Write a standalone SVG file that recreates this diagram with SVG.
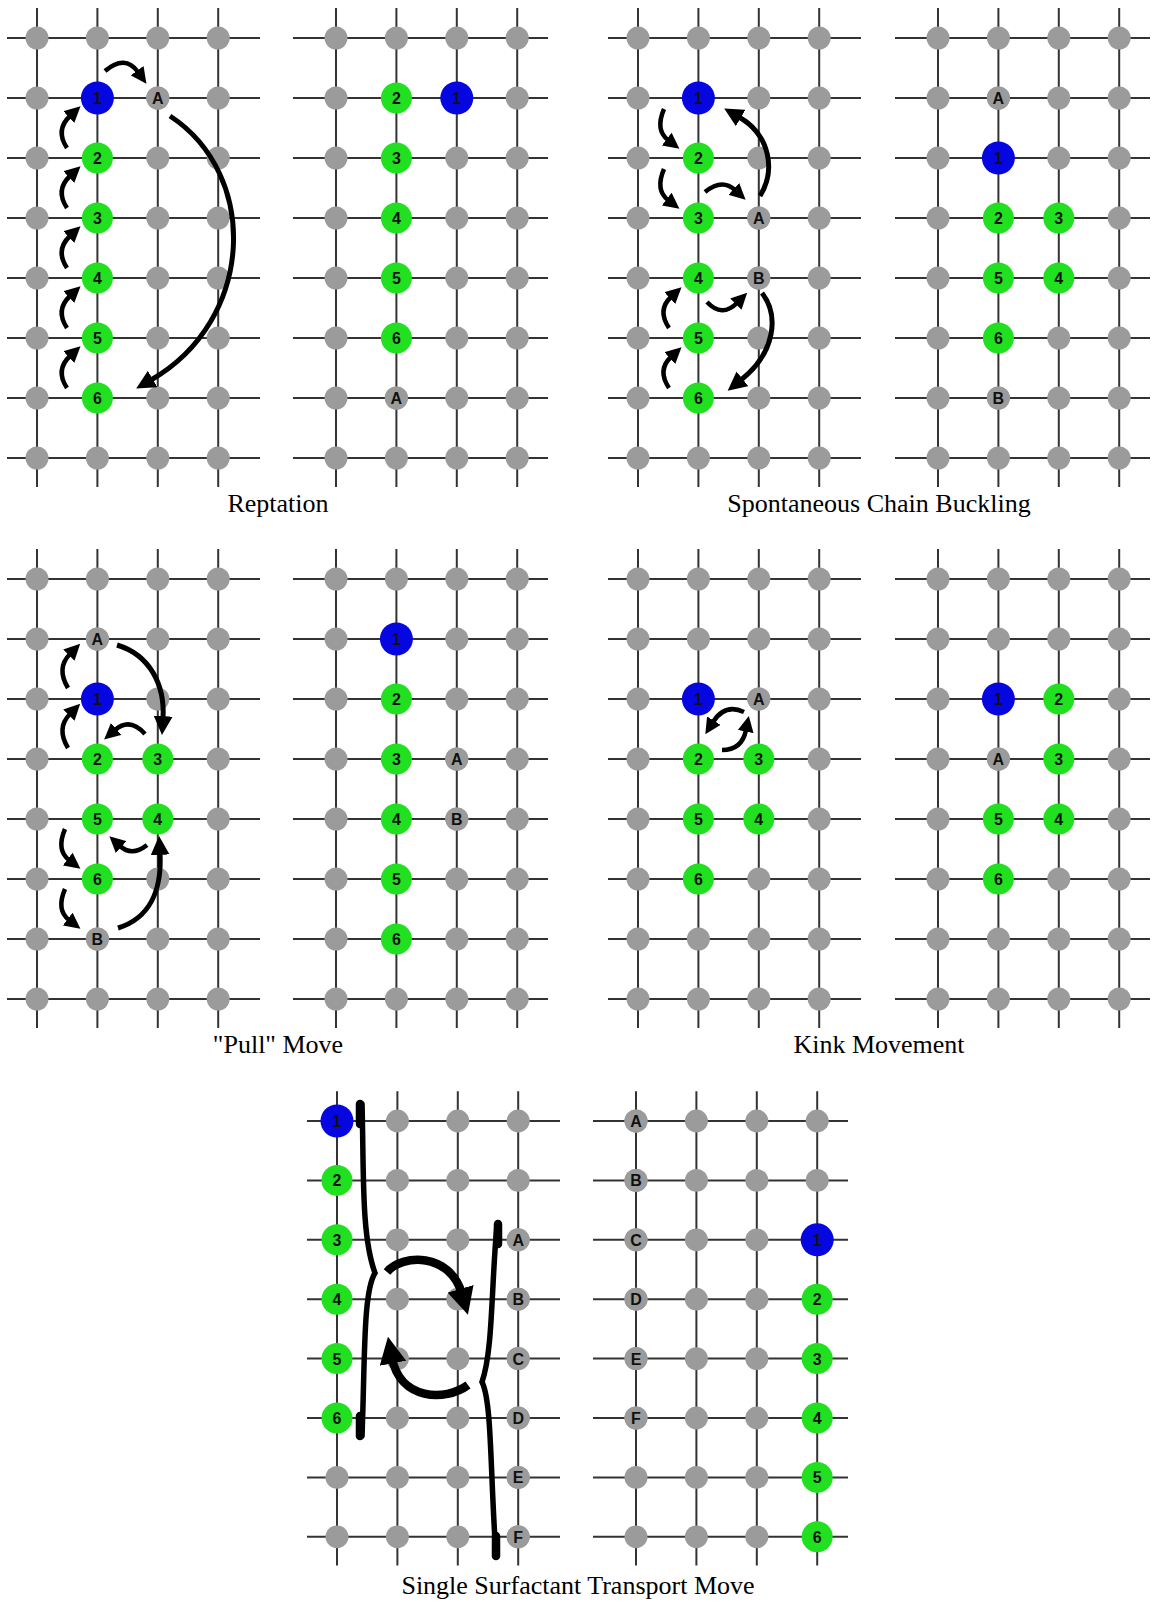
<svg xmlns="http://www.w3.org/2000/svg" xmlns:xlink="http://www.w3.org/1999/xlink" width="1155" height="1602" viewBox="0 0 1155 1602">
<style>
.ln{stroke:#333;stroke-width:2;fill:none}
.dot{fill:#9b9b9b}
.gn{fill:#20e020}
.bl{fill:#0606e0}
.gy{fill:#9b9b9b}
.lab{font-family:"Liberation Sans",Arial,sans-serif;font-weight:bold;font-size:16px;text-anchor:middle;fill:#111}
.cap{font-family:"Liberation Serif","Times New Roman",serif;font-size:26px;text-anchor:middle;fill:#000}
.arr{fill:none;stroke:#000;stroke-width:4.5;marker-end:url(#ah)}
.arrm{fill:none;stroke:#000;stroke-width:5;marker-end:url(#ahm)}
.arrb{fill:none;stroke:#000;stroke-width:8.5;marker-end:url(#ahb)}
.brace{fill:none;stroke:#000;stroke-width:5.5;stroke-linecap:round}
.bcap{fill:none;stroke:#000;stroke-width:8.5;stroke-linecap:round}
</style>
<defs>
<marker id="ah" markerUnits="userSpaceOnUse" markerWidth="16" markerHeight="16" viewBox="0 0 10 10" refX="1" refY="5" orient="auto"><path d="M0,0L10,5L0,10z" fill="#000"/></marker>
<marker id="ahm" markerUnits="userSpaceOnUse" markerWidth="19" markerHeight="19" viewBox="0 0 10 10" refX="1" refY="5" orient="auto"><path d="M0,0L10,5L0,10z" fill="#000"/></marker>
<marker id="ahb" markerUnits="userSpaceOnUse" markerWidth="27" markerHeight="27" viewBox="0 0 10 10" refX="2" refY="5" orient="auto"><path d="M0,0L10,5L0,10z" fill="#000"/></marker>
<g id="vl"><path class="ln" d="M0,-30V449M60.4,-30V449M120.8,-30V449M181.2,-30V449"/></g>
<g id="dots">
<g id="drow"><circle class="dot" cx="0" cy="0" r="11.5"/><circle class="dot" cx="60.4" cy="0" r="11.5"/><circle class="dot" cx="120.8" cy="0" r="11.5"/><circle class="dot" cx="181.2" cy="0" r="11.5"/></g>
<use xlink:href="#drow" y="60"/><use xlink:href="#drow" y="120"/><use xlink:href="#drow" y="180"/><use xlink:href="#drow" y="240"/><use xlink:href="#drow" y="300"/><use xlink:href="#drow" y="360"/><use xlink:href="#drow" y="420"/>
</g>
<g id="latL"><use xlink:href="#vl"/><path class="ln" d="M-30,0H223M-30,60H223M-30,120H223M-30,180H223M-30,240H223M-30,300H223M-30,360H223M-30,420H223"/><use xlink:href="#dots"/></g>
<g id="latR"><use xlink:href="#vl"/><path class="ln" d="M-43,0H212M-43,60H212M-43,120H212M-43,180H212M-43,240H212M-43,300H212M-43,360H212M-43,420H212"/><use xlink:href="#dots"/></g>
</defs>
<rect width="1155" height="1602" fill="#fff"/>
<g id="lattices">
<use xlink:href="#latL" transform="translate(37,38)"/>
<use xlink:href="#latR" transform="translate(336,38)"/>
<use xlink:href="#latL" transform="translate(638,38)"/>
<use xlink:href="#latR" transform="translate(938,38)"/>
<use xlink:href="#latL" transform="translate(37,579)"/>
<use xlink:href="#latR" transform="translate(336,579)"/>
<use xlink:href="#latL" transform="translate(638,579)"/>
<use xlink:href="#latR" transform="translate(938,579)"/>
<use xlink:href="#latL" transform="translate(337,1121) scale(1,0.99)"/>
<use xlink:href="#latR" transform="translate(636,1121) scale(1,0.99)"/>
</g>
<g id="nodes">
<!-- Reptation before -->
<g id="rep1-1"><circle class="bl" cx="97.4" cy="98" r="16.5"/><text class="lab" x="97.4" y="104">1</text></g>
<g id="rep1-A"><circle class="gy" cx="157.8" cy="98" r="11.5"/><text class="lab" x="157.8" y="104">A</text></g>
<g id="rep1-2"><circle class="gn" cx="97.4" cy="158" r="15.5"/><text class="lab" x="97.4" y="164">2</text></g>
<g id="rep1-3"><circle class="gn" cx="97.4" cy="218" r="15.5"/><text class="lab" x="97.4" y="224">3</text></g>
<g id="rep1-4"><circle class="gn" cx="97.4" cy="278" r="15.5"/><text class="lab" x="97.4" y="284">4</text></g>
<g id="rep1-5"><circle class="gn" cx="97.4" cy="338" r="15.5"/><text class="lab" x="97.4" y="344">5</text></g>
<g id="rep1-6"><circle class="gn" cx="97.4" cy="398" r="15.5"/><text class="lab" x="97.4" y="404">6</text></g>
<!-- Reptation after -->
<g id="rep2-2"><circle class="gn" cx="396.4" cy="98" r="15.5"/><text class="lab" x="396.4" y="104">2</text></g>
<g id="rep2-1"><circle class="bl" cx="456.8" cy="98" r="16.5"/><text class="lab" x="456.8" y="104">1</text></g>
<g id="rep2-3"><circle class="gn" cx="396.4" cy="158" r="15.5"/><text class="lab" x="396.4" y="164">3</text></g>
<g id="rep2-4"><circle class="gn" cx="396.4" cy="218" r="15.5"/><text class="lab" x="396.4" y="224">4</text></g>
<g id="rep2-5"><circle class="gn" cx="396.4" cy="278" r="15.5"/><text class="lab" x="396.4" y="284">5</text></g>
<g id="rep2-6"><circle class="gn" cx="396.4" cy="338" r="15.5"/><text class="lab" x="396.4" y="344">6</text></g>
<g id="rep2-A"><circle class="gy" cx="396.4" cy="398" r="11.5"/><text class="lab" x="396.4" y="404">A</text></g>
<!-- Buckling before -->
<g id="buc1-1"><circle class="bl" cx="698.4" cy="98" r="16.5"/><text class="lab" x="698.4" y="104">1</text></g>
<g id="buc1-2"><circle class="gn" cx="698.4" cy="158" r="15.5"/><text class="lab" x="698.4" y="164">2</text></g>
<g id="buc1-3"><circle class="gn" cx="698.4" cy="218" r="15.5"/><text class="lab" x="698.4" y="224">3</text></g>
<g id="buc1-A"><circle class="gy" cx="758.8" cy="218" r="11.5"/><text class="lab" x="758.8" y="224">A</text></g>
<g id="buc1-4"><circle class="gn" cx="698.4" cy="278" r="15.5"/><text class="lab" x="698.4" y="284">4</text></g>
<g id="buc1-B"><circle class="gy" cx="758.8" cy="278" r="11.5"/><text class="lab" x="758.8" y="284">B</text></g>
<g id="buc1-5"><circle class="gn" cx="698.4" cy="338" r="15.5"/><text class="lab" x="698.4" y="344">5</text></g>
<g id="buc1-6"><circle class="gn" cx="698.4" cy="398" r="15.5"/><text class="lab" x="698.4" y="404">6</text></g>
<!-- Buckling after -->
<g id="buc2-A"><circle class="gy" cx="998.4" cy="98" r="11.5"/><text class="lab" x="998.4" y="104">A</text></g>
<g id="buc2-1"><circle class="bl" cx="998.4" cy="158" r="16.5"/><text class="lab" x="998.4" y="164">1</text></g>
<g id="buc2-2"><circle class="gn" cx="998.4" cy="218" r="15.5"/><text class="lab" x="998.4" y="224">2</text></g>
<g id="buc2-3"><circle class="gn" cx="1058.8" cy="218" r="15.5"/><text class="lab" x="1058.8" y="224">3</text></g>
<g id="buc2-5"><circle class="gn" cx="998.4" cy="278" r="15.5"/><text class="lab" x="998.4" y="284">5</text></g>
<g id="buc2-4"><circle class="gn" cx="1058.8" cy="278" r="15.5"/><text class="lab" x="1058.8" y="284">4</text></g>
<g id="buc2-6"><circle class="gn" cx="998.4" cy="338" r="15.5"/><text class="lab" x="998.4" y="344">6</text></g>
<g id="buc2-B"><circle class="gy" cx="998.4" cy="398" r="11.5"/><text class="lab" x="998.4" y="404">B</text></g>
<!-- Pull before -->
<g id="pul1-A"><circle class="gy" cx="97.4" cy="639" r="11.5"/><text class="lab" x="97.4" y="645">A</text></g>
<g id="pul1-1"><circle class="bl" cx="97.4" cy="699" r="16.5"/><text class="lab" x="97.4" y="705">1</text></g>
<g id="pul1-2"><circle class="gn" cx="97.4" cy="759" r="15.5"/><text class="lab" x="97.4" y="765">2</text></g>
<g id="pul1-3"><circle class="gn" cx="157.8" cy="759" r="15.5"/><text class="lab" x="157.8" y="765">3</text></g>
<g id="pul1-5"><circle class="gn" cx="97.4" cy="819" r="15.5"/><text class="lab" x="97.4" y="825">5</text></g>
<g id="pul1-4"><circle class="gn" cx="157.8" cy="819" r="15.5"/><text class="lab" x="157.8" y="825">4</text></g>
<g id="pul1-6"><circle class="gn" cx="97.4" cy="879" r="15.5"/><text class="lab" x="97.4" y="885">6</text></g>
<g id="pul1-B"><circle class="gy" cx="97.4" cy="939" r="11.5"/><text class="lab" x="97.4" y="945">B</text></g>
<!-- Pull after -->
<g id="pul2-1"><circle class="bl" cx="396.4" cy="639" r="16.5"/><text class="lab" x="396.4" y="645">1</text></g>
<g id="pul2-2"><circle class="gn" cx="396.4" cy="699" r="15.5"/><text class="lab" x="396.4" y="705">2</text></g>
<g id="pul2-3"><circle class="gn" cx="396.4" cy="759" r="15.5"/><text class="lab" x="396.4" y="765">3</text></g>
<g id="pul2-A"><circle class="gy" cx="456.8" cy="759" r="11.5"/><text class="lab" x="456.8" y="765">A</text></g>
<g id="pul2-4"><circle class="gn" cx="396.4" cy="819" r="15.5"/><text class="lab" x="396.4" y="825">4</text></g>
<g id="pul2-B"><circle class="gy" cx="456.8" cy="819" r="11.5"/><text class="lab" x="456.8" y="825">B</text></g>
<g id="pul2-5"><circle class="gn" cx="396.4" cy="879" r="15.5"/><text class="lab" x="396.4" y="885">5</text></g>
<g id="pul2-6"><circle class="gn" cx="396.4" cy="939" r="15.5"/><text class="lab" x="396.4" y="945">6</text></g>
<!-- Kink before -->
<g id="kin1-1"><circle class="bl" cx="698.4" cy="699" r="16.5"/><text class="lab" x="698.4" y="705">1</text></g>
<g id="kin1-A"><circle class="gy" cx="758.8" cy="699" r="11.5"/><text class="lab" x="758.8" y="705">A</text></g>
<g id="kin1-2"><circle class="gn" cx="698.4" cy="759" r="15.5"/><text class="lab" x="698.4" y="765">2</text></g>
<g id="kin1-3"><circle class="gn" cx="758.8" cy="759" r="15.5"/><text class="lab" x="758.8" y="765">3</text></g>
<g id="kin1-5"><circle class="gn" cx="698.4" cy="819" r="15.5"/><text class="lab" x="698.4" y="825">5</text></g>
<g id="kin1-4"><circle class="gn" cx="758.8" cy="819" r="15.5"/><text class="lab" x="758.8" y="825">4</text></g>
<g id="kin1-6"><circle class="gn" cx="698.4" cy="879" r="15.5"/><text class="lab" x="698.4" y="885">6</text></g>
<!-- Kink after -->
<g id="kin2-1"><circle class="bl" cx="998.4" cy="699" r="16.5"/><text class="lab" x="998.4" y="705">1</text></g>
<g id="kin2-2"><circle class="gn" cx="1058.8" cy="699" r="15.5"/><text class="lab" x="1058.8" y="705">2</text></g>
<g id="kin2-A"><circle class="gy" cx="998.4" cy="759" r="11.5"/><text class="lab" x="998.4" y="765">A</text></g>
<g id="kin2-3"><circle class="gn" cx="1058.8" cy="759" r="15.5"/><text class="lab" x="1058.8" y="765">3</text></g>
<g id="kin2-5"><circle class="gn" cx="998.4" cy="819" r="15.5"/><text class="lab" x="998.4" y="825">5</text></g>
<g id="kin2-4"><circle class="gn" cx="1058.8" cy="819" r="15.5"/><text class="lab" x="1058.8" y="825">4</text></g>
<g id="kin2-6"><circle class="gn" cx="998.4" cy="879" r="15.5"/><text class="lab" x="998.4" y="885">6</text></g>
<!-- Transport before -->
<g id="tra1-1"><circle class="bl" cx="337" cy="1121" r="16.5"/><text class="lab" x="337" y="1127">1</text></g>
<g id="tra1-2"><circle class="gn" cx="337" cy="1180.4" r="15.5"/><text class="lab" x="337" y="1186.4">2</text></g>
<g id="tra1-3"><circle class="gn" cx="337" cy="1239.8" r="15.5"/><text class="lab" x="337" y="1245.8">3</text></g>
<g id="tra1-4"><circle class="gn" cx="337" cy="1299.2" r="15.5"/><text class="lab" x="337" y="1305.2">4</text></g>
<g id="tra1-5"><circle class="gn" cx="337" cy="1358.6" r="15.5"/><text class="lab" x="337" y="1364.6">5</text></g>
<g id="tra1-6"><circle class="gn" cx="337" cy="1418" r="15.5"/><text class="lab" x="337" y="1424">6</text></g>
<g id="tra1-A"><circle class="gy" cx="518.2" cy="1239.8" r="11.5"/><text class="lab" x="518.2" y="1245.8">A</text></g>
<g id="tra1-B"><circle class="gy" cx="518.2" cy="1299.2" r="11.5"/><text class="lab" x="518.2" y="1305.2">B</text></g>
<g id="tra1-C"><circle class="gy" cx="518.2" cy="1358.6" r="11.5"/><text class="lab" x="518.2" y="1364.6">C</text></g>
<g id="tra1-D"><circle class="gy" cx="518.2" cy="1418" r="11.5"/><text class="lab" x="518.2" y="1424">D</text></g>
<g id="tra1-E"><circle class="gy" cx="518.2" cy="1477.4" r="11.5"/><text class="lab" x="518.2" y="1483.4">E</text></g>
<g id="tra1-F"><circle class="gy" cx="518.2" cy="1536.8" r="11.5"/><text class="lab" x="518.2" y="1542.8">F</text></g>
<!-- Transport after -->
<g id="tra2-A"><circle class="gy" cx="636" cy="1121" r="11.5"/><text class="lab" x="636" y="1127">A</text></g>
<g id="tra2-B"><circle class="gy" cx="636" cy="1180.4" r="11.5"/><text class="lab" x="636" y="1186.4">B</text></g>
<g id="tra2-C"><circle class="gy" cx="636" cy="1239.8" r="11.5"/><text class="lab" x="636" y="1245.8">C</text></g>
<g id="tra2-D"><circle class="gy" cx="636" cy="1299.2" r="11.5"/><text class="lab" x="636" y="1305.2">D</text></g>
<g id="tra2-E"><circle class="gy" cx="636" cy="1358.6" r="11.5"/><text class="lab" x="636" y="1364.6">E</text></g>
<g id="tra2-F"><circle class="gy" cx="636" cy="1418" r="11.5"/><text class="lab" x="636" y="1424">F</text></g>
<g id="tra2-1"><circle class="bl" cx="817.2" cy="1239.8" r="16.5"/><text class="lab" x="817.2" y="1245.8">1</text></g>
<g id="tra2-2"><circle class="gn" cx="817.2" cy="1299.2" r="15.5"/><text class="lab" x="817.2" y="1305.2">2</text></g>
<g id="tra2-3"><circle class="gn" cx="817.2" cy="1358.6" r="15.5"/><text class="lab" x="817.2" y="1364.6">3</text></g>
<g id="tra2-4"><circle class="gn" cx="817.2" cy="1418" r="15.5"/><text class="lab" x="817.2" y="1424">4</text></g>
<g id="tra2-5"><circle class="gn" cx="817.2" cy="1477.4" r="15.5"/><text class="lab" x="817.2" y="1483.4">5</text></g>
<g id="tra2-6"><circle class="gn" cx="817.2" cy="1536.8" r="15.5"/><text class="lab" x="817.2" y="1542.8">6</text></g>
</g>
<g id="connectors">
<!-- Reptation -->
<path class="arr" d="M105,71 Q125,54 138,72"/>
<path class="arr" d="M67,148 Q55,130 70,116"/>
<path class="arr" d="M67,208 Q55,190 70,176"/>
<path class="arr" d="M67,268 Q55,250 70,236"/>
<path class="arr" d="M67,328 Q55,310 70,296"/>
<path class="arr" d="M67,388 Q55,370 70,356"/>
<path class="arrm" d="M170,116 C260,175 255,320 151,380"/>
<!-- Buckling -->
<path class="arr" d="M664,109 Q655,130 668,140"/>
<path class="arr" d="M664,169 Q655,190 668,200"/>
<path class="arr" d="M705,192 Q722,178 735,190"/>
<path class="arrm" d="M760,196 C776,170 770,135 739,117"/>
<path class="arr" d="M669,328 Q657,310 671,297"/>
<path class="arr" d="M669,388 Q657,370 671,357"/>
<path class="arr" d="M707,302 Q722,318 737,303"/>
<path class="arrm" d="M762,293 C779,315 776,352 741,380"/>
<!-- Pull -->
<path class="arr" d="M68,688 Q56,668 70,654"/>
<path class="arr" d="M68,748 Q56,728 70,714"/>
<path class="arrm" d="M117,645 C150,655 165,685 163,718"/>
<path class="arr" d="M145,734 Q130,717 115,730"/>
<path class="arr" d="M65,829 Q56,850 69,860"/>
<path class="arr" d="M65,889 Q56,910 69,920"/>
<path class="arr" d="M147,845 Q132,857 120,846"/>
<path class="arrm" d="M118,928 C150,918 162,890 160,853"/>
<!-- Kink -->
<path class="arr" d="M744,712 Q725,703 713,722"/>
<path class="arr" d="M722,750 Q742,750 746,730"/>
<!-- Transport -->
<path class="brace" d="M362,1104 C364,1170 361,1235 375,1273 C363,1292 365,1360 362,1436"/>
<path class="bcap" d="M360,1104V1124M360,1416V1436"/>
<path class="brace" d="M497,1224 C491,1290 493,1350 482,1382 C492,1402 490,1470 496,1556"/>
<path class="bcap" d="M498,1224V1244M496,1536V1556"/>
<path class="arrb" d="M387,1272 C402,1254 450,1252 462,1294"/>
<path class="arrb" d="M468,1385 C445,1402 400,1400 392,1358"/>
</g>
<g id="captions">
<text class="cap" x="278" y="512">Reptation</text>
<text class="cap" x="879" y="512">Spontaneous Chain Buckling</text>
<text class="cap" x="278" y="1053">"Pull" Move</text>
<text class="cap" x="879" y="1053">Kink Movement</text>
<text class="cap" x="578" y="1594">Single Surfactant Transport Move</text>
</g>
</svg>
